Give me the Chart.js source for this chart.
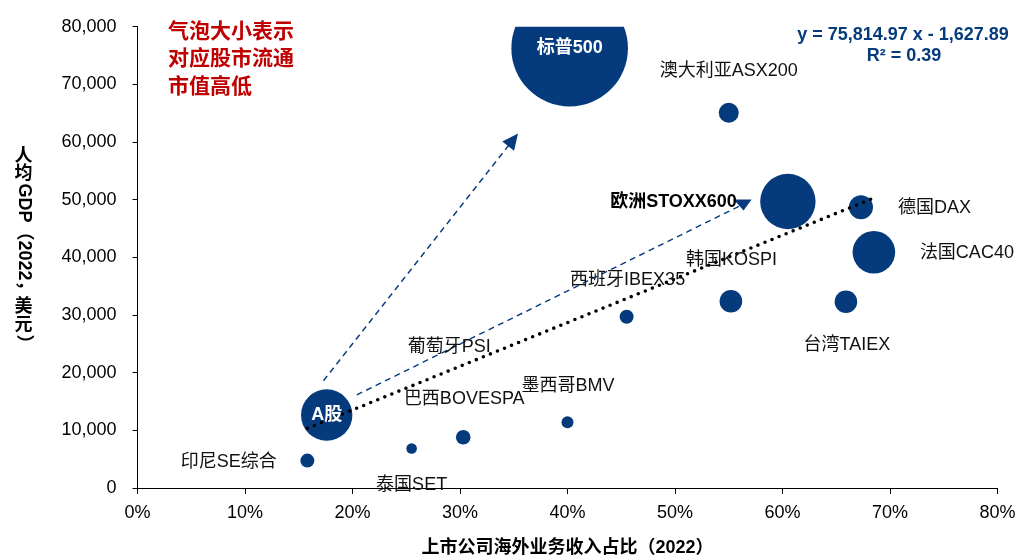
<!DOCTYPE html>
<html>
<head>
<meta charset="utf-8">
<script src="https://cdn.jsdelivr.net/npm/chart.js@4/dist/chart.umd.min.js"></script>
<style>
  html, body { margin: 0; padding: 0; background: #ffffff; }
  #wrap { width: 1029px; height: 560px; }
</style>
</head>
<body>
<div id="wrap"><canvas id="c" width="1029" height="560"></canvas></div>
<script>
// ---------- data ----------
const categories = ['标普500', '澳大利亚ASX200', '欧洲STOXX600', '德国DAX', '法国CAC40', '韩国KOSPI',
  '台湾TAIEX', '西班牙IBEX35', 'A股', '印尼SE综合', '泰国SET', '巴西BOVESPA', '墨西哥BMV'];
const overseasShare = [40.2, 55.0, 60.5, 67.3, 68.5, 55.2, 65.9, 45.5, 17.6, 15.8, 25.5, 30.3, 40.0]; // %
const gdpPerCapita = [76300, 65100, 49700, 48700, 40900, 32400, 32300, 29700, 12650, 4750, 6850, 8800, 11400]; // USD
const bubbleRadius = [58.3, 10, 27.7, 12, 21.3, 11.3, 11.3, 7, 25.7, 7, 5.3, 7.3, 6]; // relative free-float market cap

// trend line y = 75,814.97 x - 1,627.89 (end points as drawn)
const trendX = [15.8, 68.5];
const trendY = [10350, 50300];
const trendEquation = 'y = 75,814.97 x - 1,627.89';
const trendR2 = 'R² = 0.39';

// dashed arrows (data coordinates)
const arrowFromX = [17.3, 20.4];
const arrowFromY = [18600, 16150];
const arrowToX = [35.4, 56.1];
const arrowToY = [61500, 49000];

const xTickLabels = ['0%', '10%', '20%', '30%', '40%', '50%', '60%', '70%', '80%'];
const yTickLabels = ['0', '10,000', '20,000', '30,000', '40,000', '50,000', '60,000', '70,000', '80,000'];

const xTitle = '上市公司海外业务收入占比（2022）';
const yTitle = '人均GDP（2022，美元）';
const noteLines = ['气泡大小表示', '对应股市流通', '市值高低'];

// extra label without bubble
const extraLabel = { text: '葡萄牙PSI', x: 29.0, y: 24400 };

// label placement relative to bubble centre (px)
const labelPlacement = [
  { dx: 0, dy: 0, align: 'center', style: 'inside' },
  { dx: 0, dy: -42, align: 'center' },
  { dx: -51, dy: 0.5, align: 'right', style: 'bold' },
  { dx: 37, dy: 1, align: 'left' },
  { dx: 46, dy: 0.5, align: 'left' },
  { dx: 0.5, dy: -41, align: 'center' },
  { dx: 1, dy: 43, align: 'center' },
  { dx: 1, dy: -37, align: 'center' },
  { dx: 0, dy: 0, align: 'center', style: 'inside' },
  { dx: -30.5, dy: 1.5, align: 'right' },
  { dx: 0, dy: 37, align: 'center' },
  { dx: 1, dy: -38, align: 'center' },
  { dx: 0.5, dy: -36, align: 'center' }
];

// ---------- styling ----------
const NAVY = '#053B7C';
const RED = '#C00000';
const FONT = "'Liberation Sans', Arial, 'Noto Sans CJK SC', sans-serif";

const bubbleData = categories.map((c, i) => ({ x: overseasShare[i], y: gdpPerCapita[i], r: bubbleRadius[i] }));
const trendData = trendX.map((v, i) => ({ x: v, y: trendY[i] }));

const overlay = {
  id: 'overlay',
  afterDatasetsDraw(chart) {
    const { ctx, scales: { x, y } } = chart;
    ctx.save();

    // dashed arrows
    for (let i = 0; i < arrowFromX.length; i++) {
      const x1 = x.getPixelForValue(arrowFromX[i]), y1 = y.getPixelForValue(arrowFromY[i]);
      const x2 = x.getPixelForValue(arrowToX[i]), y2 = y.getPixelForValue(arrowToY[i]);
      const ang = Math.atan2(y2 - y1, x2 - x1);
      ctx.strokeStyle = NAVY;
      ctx.fillStyle = NAVY;
      ctx.lineWidth = 1.4;
      ctx.setLineDash([6, 4.5]);
      ctx.beginPath();
      ctx.moveTo(x1, y1);
      if (i === 0) {
        ctx.lineTo(x2 - 13 * Math.cos(ang), y2 - 13 * Math.sin(ang));
      } else {
        ctx.lineTo(x2, y2);
      }
      ctx.stroke();
      ctx.setLineDash([]);
      ctx.beginPath();
      if (i === 0) {
        const L = 16, W = 7.5;
        const bx = x2 - L * Math.cos(ang), by = y2 - L * Math.sin(ang);
        ctx.moveTo(x2, y2);
        ctx.lineTo(bx + W * Math.sin(ang), by - W * Math.cos(ang));
        ctx.lineTo(bx - W * Math.sin(ang), by + W * Math.cos(ang));
      } else {
        ctx.moveTo(x2 - 7, y2 - 6);
        ctx.lineTo(x2 + 11, y2 - 6);
        ctx.lineTo(x2 + 3, y2 + 5);
      }
      ctx.closePath();
      ctx.fill();
    }

    // bubble labels
    const meta = chart.getDatasetMeta(1);
    ctx.textBaseline = 'middle';
    meta.data.forEach((el, i) => {
      const p = labelPlacement[i];
      if (p.style === 'inside') {
        ctx.font = 'bold 18px ' + FONT;
        ctx.fillStyle = '#ffffff';
      } else if (p.style === 'bold') {
        ctx.font = 'bold 18px ' + FONT;
        ctx.fillStyle = '#000000';
      } else {
        ctx.font = '18px ' + FONT;
        ctx.fillStyle = '#111111';
      }
      ctx.textAlign = p.align;
      ctx.fillText(categories[i], el.x + p.dx, el.y + p.dy);
    });
    ctx.font = '18px ' + FONT;
    ctx.fillStyle = '#111111';
    ctx.textAlign = 'center';
    ctx.fillText(extraLabel.text, x.getPixelForValue(extraLabel.x), y.getPixelForValue(extraLabel.y));

    // equation
    ctx.fillStyle = NAVY;
    ctx.font = 'bold 18px ' + FONT;
    ctx.textAlign = 'center';
    ctx.fillText(trendEquation, 903, 35);
    ctx.fillText(trendR2, 904, 56.5);

    // note
    ctx.fillStyle = RED;
    ctx.font = 'bold 21px ' + FONT;
    ctx.textAlign = 'left';
    noteLines.forEach((t, i) => ctx.fillText(t, 168, 32 + i * 27.5));

    ctx.restore();
  },
  afterDraw(chart) {
    const { ctx, scales: { x } } = chart;
    ctx.save();
    ctx.fillStyle = '#000000';
    ctx.font = 'bold 18px ' + FONT;
    ctx.textAlign = 'center';
    ctx.textBaseline = 'middle';
    ctx.fillText(xTitle, (x.left + x.right) / 2, 548);

    // vertical y title: CJK upright, latin rotated
    const chars = Array.from(yTitle);
    const isCJK = ch => /[\u4e00-\u9fff]/.test(ch);
    const runs = [];
    chars.forEach(ch => {
      const cjk = isCJK(ch);
      if (runs.length && !cjk && !runs[runs.length - 1].cjk) runs[runs.length - 1].t += ch;
      else runs.push({ t: ch, cjk });
    });
    let total = 0;
    runs.forEach(r => { r.w = r.cjk ? 18 * r.t.length : ctx.measureText(r.t).width; total += r.w; });
    let pos = 250 - total / 2;
    const cx = 23.5;
    runs.forEach(r => {
      if (r.cjk) {
        ctx.textAlign = 'center';
        for (const ch of r.t) { ctx.fillText(ch, cx, pos + 9); pos += 18; }
      } else {
        ctx.save();
        ctx.translate(cx, pos);
        ctx.rotate(Math.PI / 2);
        ctx.textAlign = 'left';
        ctx.fillText(r.t, 0, 0);
        ctx.restore();
        pos += r.w;
      }
    });
    ctx.restore();
  }
};

new Chart(document.getElementById('c'), {
  type: 'bubble',
  data: {
    datasets: [
      {
        type: 'line',
        label: 'trend',
        data: trendData,
        borderColor: '#000000',
        borderWidth: 3.6,
        borderDash: [0, 7.6],
        borderCapStyle: 'round',
        pointRadius: 0,
        fill: false,
        order: 0
      },
      {
        label: 'markets',
        data: bubbleData,
        backgroundColor: NAVY,
        borderColor: NAVY,
        borderWidth: 0,
        order: 1
      }
    ]
  },
  options: {
    responsive: false,
    animation: false,
    devicePixelRatio: 1,
    layout: { autoPadding: false, padding: { left: 0, top: 16, right: 31.5, bottom: 0 } },
    plugins: { legend: { display: false }, tooltip: { enabled: false } },
    scales: {
      x: {
        type: 'linear',
        position: 'bottom',
        min: 0, max: 80,
        afterFit: s => { s.height = 72; },
        ticks: {
          stepSize: 10,
          padding: 8,
          color: '#000000',
          font: { family: FONT, size: 18 },
          callback: v => xTickLabels[Math.round(v / 10)]
        },
        grid: { drawOnChartArea: false, drawTicks: true, tickLength: 6, color: '#000000' },
        border: { display: true, color: '#000000', width: 1 }
      },
      y: {
        type: 'linear',
        min: 0, max: 80000,
        afterFit: s => { s.width = 137.5; },
        ticks: {
          stepSize: 10000,
          padding: 16,
          color: '#000000',
          font: { family: FONT, size: 18 },
          callback: v => yTickLabels[Math.round(v / 10000)]
        },
        grid: { drawOnChartArea: false, drawTicks: true, tickLength: 5, color: '#000000' },
        border: { display: true, color: '#000000', width: 1 }
      }
    }
  },
  plugins: [overlay]
});
</script>
</body>
</html>
